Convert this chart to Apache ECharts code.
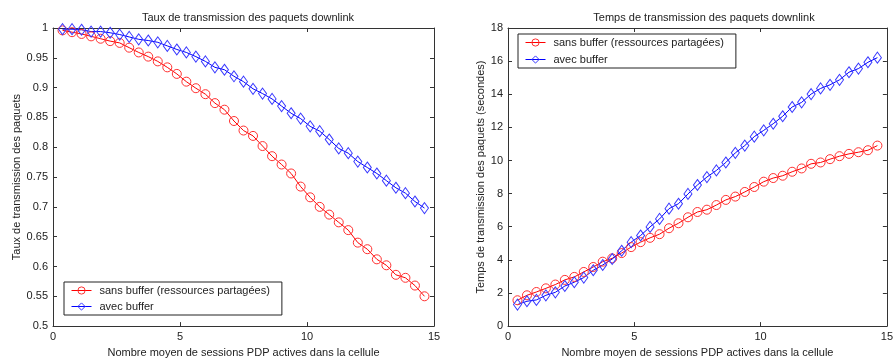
<!DOCTYPE html>
<html>
<head>
<meta charset="utf-8">
<script src="https://cdn.jsdelivr.net/npm/echarts@6/dist/echarts.min.js"></script>
<style>
html,body{margin:0;padding:0;background:#fff;}
#c{width:896px;height:363px;}
</style>
</head>
<body>
<div id="c"></div>
<script>
// ---- data ----
const sessions = [0.375,0.75,1.125,1.5,1.875,2.25,2.625,3,3.375,3.75,4.125,4.5,4.875,5.25,5.625,6,6.375,6.75,7.125,7.5,7.875,8.25,8.625,9,9.375,9.75,10.125,10.5,10.875,11.25,11.625,12,12.375,12.75,13.125,13.5,13.875,14.25,14.625];

const tauxSansBuffer = [0.996,0.993,0.990,0.986,0.982,0.978,0.975,0.967,0.959,0.952,0.944,0.934,0.923,0.910,0.899,0.889,0.874,0.863,0.844,0.828,0.819,0.802,0.785,0.771,0.756,0.734,0.716,0.700,0.687,0.674,0.661,0.640,0.629,0.612,0.602,0.586,0.581,0.568,0.550];
const tauxAvecBuffer = [0.998,0.998,0.997,0.994,0.994,0.992,0.989,0.985,0.981,0.979,0.976,0.970,0.964,0.959,0.952,0.944,0.934,0.930,0.919,0.910,0.898,0.890,0.881,0.869,0.857,0.848,0.835,0.827,0.813,0.798,0.790,0.776,0.766,0.756,0.744,0.732,0.723,0.709,0.698];

const tempsSansBuffer = [1.56,1.86,2.06,2.28,2.51,2.79,2.97,3.27,3.57,3.89,4.09,4.41,4.77,5.07,5.33,5.55,5.91,6.21,6.57,6.89,7.03,7.31,7.62,7.82,8.10,8.40,8.72,8.94,9.08,9.32,9.52,9.80,9.88,10.08,10.26,10.40,10.50,10.62,10.90];
const tempsAvecBuffer = [1.30,1.50,1.58,1.86,2.04,2.42,2.65,2.93,3.37,3.69,4.05,4.55,5.07,5.47,5.99,6.47,7.09,7.39,7.98,8.52,9.00,9.40,9.88,10.46,10.90,11.44,11.82,12.22,12.67,13.23,13.51,14.01,14.35,14.57,14.87,15.33,15.55,15.93,16.21];

const seriesNames = ['sans buffer (ressources partagées)', 'avec buffer'];
const titles = ['Taux de transmission des paquets downlink', 'Temps de transmission des paquets downlink'];
const yNames = ['Taux de transmission des paquets', 'Temps de transmission des paquets (secondes)'];
const xName = 'Nombre moyen de sessions PDP actives dans la cellule';

// ---- chart ----
const FONT = 'Liberation Sans, Arial, sans-serif';
const AX = '#333';
const pair = (xs, ys) => xs.map((x, i) => [x, ys[i]]);

function mainX(gi) {
  return {
    gridIndex: gi, type: 'value', min: 0, max: 15, interval: 5, position: 'bottom',
    name: xName, nameLocation: 'middle', nameGap: 19,
    nameTextStyle: {fontFamily: FONT, fontSize: 11, color: '#222'},
    axisLine: {show: true, onZero: false, lineStyle: {color: AX, width: 1}},
    axisTick: {show: true, inside: true, length: 4, lineStyle: {color: AX}},
    axisLabel: {fontFamily: FONT, fontSize: 11, color: '#222', margin: 5},
    splitLine: {show: false}
  };
}
function topX(gi) {
  return {
    gridIndex: gi, type: 'value', min: 0, max: 15, interval: 5, position: 'top',
    axisLine: {show: true, onZero: false, lineStyle: {color: AX, width: 1}},
    axisTick: {show: true, inside: true, length: 4, lineStyle: {color: AX}},
    axisLabel: {show: false}, splitLine: {show: false}
  };
}
function mainY(gi, min, max, interval, name, gap, fmt) {
  return {
    gridIndex: gi, type: 'value', min, max, interval, position: 'left',
    name, nameLocation: 'middle', nameGap: gap, nameRotate: 90,
    nameTextStyle: {fontFamily: FONT, fontSize: 11, color: '#222'},
    axisLine: {show: true, onZero: false, lineStyle: {color: AX, width: 1}},
    axisTick: {show: true, inside: true, length: 4, lineStyle: {color: AX}},
    axisLabel: {fontFamily: FONT, fontSize: 11, color: '#222', margin: 5, formatter: fmt},
    splitLine: {show: false}
  };
}
function rightY(gi, min, max, interval) {
  return {
    gridIndex: gi, type: 'value', min, max, interval, position: 'right',
    axisLine: {show: true, onZero: false, lineStyle: {color: AX, width: 1}},
    axisTick: {show: true, inside: true, length: 4, lineStyle: {color: AX}},
    axisLabel: {show: false}, splitLine: {show: false}
  };
}
function redSeries(xi, yi, data) {
  return {
    name: seriesNames[0], type: 'line', xAxisIndex: xi, yAxisIndex: yi, data,
    symbol: 'circle', symbolSize: 9, showAllSymbol: true,
    lineStyle: {color: '#ff0000', width: 1},
    itemStyle: {color: 'rgba(255,0,0,0)', borderColor: '#ff3030', borderWidth: 1},
    emphasis: {disabled: true}, animation: false
  };
}
function blueSeries(xi, yi, data) {
  return {
    name: seriesNames[1], type: 'line', xAxisIndex: xi, yAxisIndex: yi, data,
    symbol: 'diamond', symbolSize: [8, 11], showAllSymbol: true,
    lineStyle: {color: '#0000ff', width: 1},
    itemStyle: {color: 'rgba(0,0,255,0)', borderColor: '#3838ff', borderWidth: 1},
    emphasis: {disabled: true}, animation: false
  };
}
function legend(left, top, gap) {
  return {
    show: true, orient: 'vertical', left, top,
    data: seriesNames,
    borderColor: '#222', borderWidth: 1, backgroundColor: '#fff',
    padding: [3, 12, 3, 7], itemWidth: 20, itemHeight: 9, itemGap: gap,
    lineStyle: {width: 1},
    itemStyle: {borderWidth: 1},
    textStyle: {fontFamily: FONT, fontSize: 11, color: '#222', padding: [0, 0, 0, 3]},
    selectedMode: false
  };
}

const chart = echarts.init(document.getElementById('c'), null, {renderer: 'canvas'});
chart.setOption({
  backgroundColor: '#fff',
  animation: false,
  title: [
    {text: titles[0], left: 243, top: 7, textAlign: 'center',
     textStyle: {fontFamily: FONT, fontSize: 11, fontWeight: 'normal', color: '#222'}},
    {text: titles[1], left: 699, top: 7, textAlign: 'center',
     textStyle: {fontFamily: FONT, fontSize: 11, fontWeight: 'normal', color: '#222'}}
  ],
  grid: [
    {left: 53, top: 28, width: 381, height: 300},
    {left: 508, top: 28, width: 382, height: 300}
  ],
  legend: [legend(64, 282, 5), legend(518, 34, 6)],
  xAxis: [mainX(0), topX(0), mainX(1), topX(1)],
  yAxis: [
    mainY(0, 0.5, 1, 0.05, yNames[0], 30, v => String(+v.toFixed(2))),
    rightY(0, 0.5, 1, 0.05),
    mainY(1, 0, 18, 2, yNames[1], 22, v => String(v)),
    rightY(1, 0, 18, 2)
  ],
  series: [
    redSeries(0, 0, pair(sessions, tauxSansBuffer)),
    blueSeries(0, 0, pair(sessions, tauxAvecBuffer)),
    redSeries(2, 2, pair(sessions, tempsSansBuffer)),
    blueSeries(2, 2, pair(sessions, tempsAvecBuffer))
  ]
});
</script>
</body>
</html>
